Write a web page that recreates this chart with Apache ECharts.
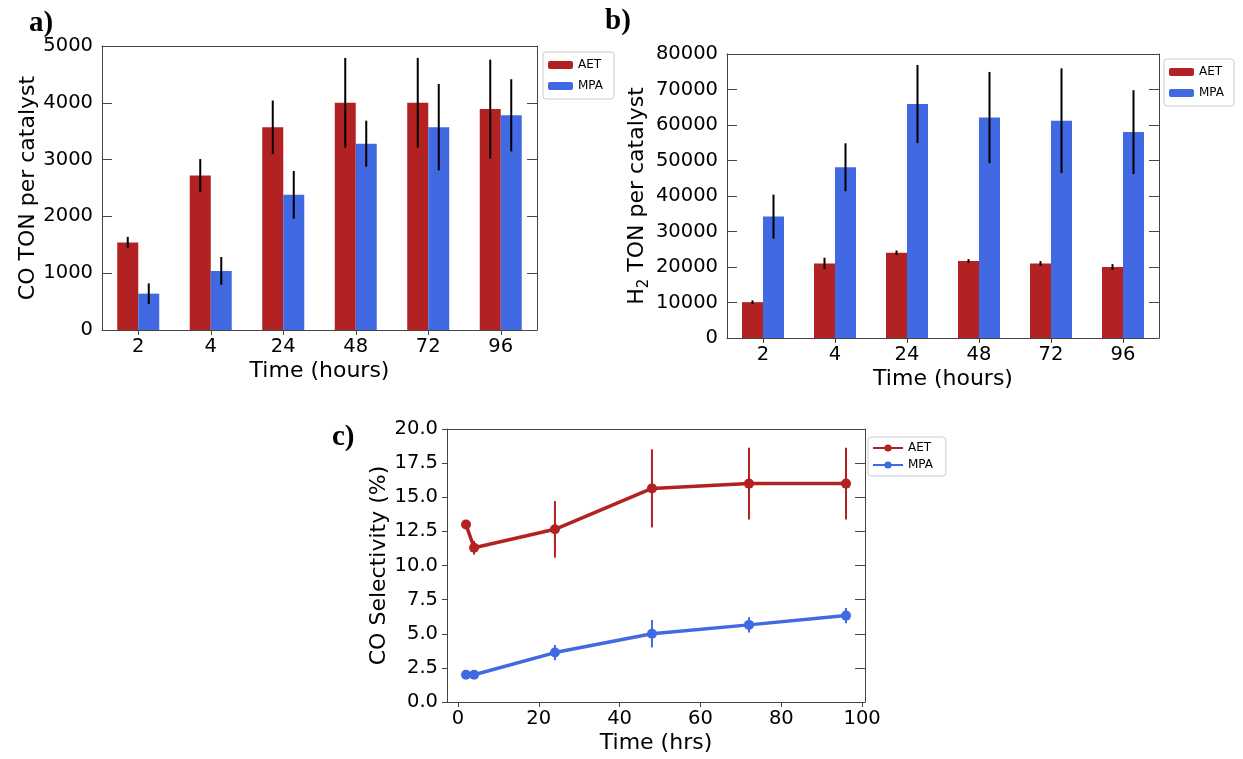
<!DOCTYPE html>
<html>
<head>
<meta charset="utf-8">
<script src="https://cdn.jsdelivr.net/npm/echarts@6/dist/echarts.min.js"></script>
<style>html,body{margin:0;padding:0;background:#fff}#c{width:1243px;height:759px}</style>
</head>
<body>
<div id="c"></div>
<script>
// ---- data ----
const categories = ['2', '4', '24', '48', '72', '96'];
const coAET = [1540, 2720, 3570, 4000, 4000, 3890];
const coAETerr = [100, 290, 470, 790, 790, 870];
const coMPA = [640, 1040, 2380, 3280, 3570, 3780];
const coMPAerr = [180, 245, 420, 405, 760, 635];

const h2AET = [10100, 21000, 24000, 21700, 21000, 20000];
const h2AETerr = [500, 1600, 650, 500, 650, 800];
const h2MPA = [34200, 48100, 65900, 62100, 61200, 58000];
const h2MPAerr = [6200, 6750, 11000, 12850, 14750, 11800];

const hours = [2, 4, 24, 48, 72, 96];
const selAET = [13.0, 11.3, 12.65, 15.65, 16.0, 16.0];
const selAETerr = [0, 0.5, 2.07, 2.86, 2.63, 2.63];
const selMPA = [2.0, 2.0, 3.62, 5.0, 5.65, 6.33];
const selMPAerr = [0, 0, 0.56, 1.0, 0.56, 0.56];

// ---- style ----
const FONT = 'DejaVu Sans';
const RED = '#B22222';
const BLUE = '#4169E1';
const SPINE = '#444';
const TICK = 19.5;
const LAB = 22;
const BARW = 21;

const chart = echarts.init(document.getElementById('c'));

function errData(vals, errs) {
  return vals.map((v, i) => [i, v - errs[i], v + errs[i]]);
}
function errDataXY(xs, vals, errs) {
  return vals.map((v, i) => [xs[i], v - errs[i], v + errs[i]]);
}
function errSeries(name, xi, yi, data, dx, color, lw) {
  return {
    name: name, type: 'custom', xAxisIndex: xi, yAxisIndex: yi, z: 10,
    data: data, encode: { x: 0, y: [1, 2] }, silent: true,
    renderItem: function (params, api) {
      const lo = api.value(1), hi = api.value(2);
      if (hi - lo <= 0) return null;
      const p1 = api.coord([api.value(0), lo]);
      const p2 = api.coord([api.value(0), hi]);
      return { type: 'line', shape: { x1: p1[0] + dx, y1: p1[1], x2: p2[0] + dx, y2: p2[1] },
               style: { stroke: color, lineWidth: lw } };
    }
  };
}

const tickLabel = { fontFamily: FONT, fontSize: TICK, color: '#000' };
const nameStyle = { fontFamily: FONT, fontSize: LAB, color: '#000' };
const spineLine = { show: true, onZero: false, lineStyle: { color: SPINE, width: 1 } };

function catX(gi, nameGap) {
  return [{
    type: 'category', gridIndex: gi, data: categories, position: 'bottom',
    name: 'Time (hours)', nameLocation: 'middle', nameGap: nameGap, nameTextStyle: nameStyle,
    axisLine: spineLine,
    axisTick: { show: true, alignWithLabel: true, inside: false, length: 5, lineStyle: { color: SPINE } },
    axisLabel: Object.assign({ margin: 7 }, tickLabel),
    splitLine: { show: false }
  }, {
    type: 'category', gridIndex: gi, data: categories, position: 'top',
    axisLine: spineLine,
    axisTick: { show: false }, axisLabel: { show: false }, splitLine: { show: false }
  }];
}
function valY(gi, max, interval, name, nameGap, leftInside, extraName) {
  return [{
    type: 'value', gridIndex: gi, min: 0, max: max, interval: interval, position: 'left',
    name: name, nameLocation: 'middle', nameGap: nameGap,
    nameTextStyle: Object.assign({}, nameStyle, extraName || {}),
    axisLine: spineLine,
    axisTick: { show: true, inside: leftInside, length: leftInside ? 10 : 5, lineStyle: { color: SPINE } },
    axisLabel: Object.assign({ margin: 9, formatter: v => String(v) }, tickLabel),
    splitLine: { show: false }
  }, {
    type: 'value', gridIndex: gi, min: 0, max: max, interval: interval, position: 'right',
    axisLine: spineLine,
    axisTick: { show: true, inside: true, length: 10, lineStyle: { color: SPINE } },
    axisLabel: { show: false }, splitLine: { show: false }
  }];
}

const xA = catX(0, 30), xB = catX(1, 30);
const yA = valY(0, 5000, 1000, 'CO TON per catalyst', 56, true);
const yB = valY(1, 80000, 10000, '{a|H}{s|2}{a| TON per catalyst}', 72, true, {
  rich: {
    a: { fontFamily: FONT, fontSize: LAB, color: '#000', lineHeight: 30, verticalAlign: 'middle' },
    s: { fontFamily: FONT, fontSize: 15, color: '#000', lineHeight: 15, verticalAlign: 'bottom' }
  }
});
const yC = valY(2, 20, 2.5, 'CO Selectivity (%)', 51, false);
yC[0].axisLabel.formatter = v => v.toFixed(1);

// panel c data grid x axes (frame) + label grid x axis
const xC = [{
  type: 'value', gridIndex: 2, min: -2.7, max: 100.7, position: 'bottom',
  name: 'Time (hrs)', nameLocation: 'middle', nameGap: 30, nameTextStyle: nameStyle,
  axisLine: spineLine,
  axisTick: { show: false }, axisLabel: { show: false }, splitLine: { show: false }
}, {
  type: 'value', gridIndex: 2, min: -2.7, max: 100.7, position: 'top',
  axisLine: spineLine,
  axisTick: { show: false }, axisLabel: { show: false }, splitLine: { show: false }
}, {
  type: 'value', gridIndex: 3, min: 0, max: 100, interval: 20, position: 'bottom',
  axisLine: { show: false, onZero: false },
  axisTick: { show: true, inside: false, length: 5, lineStyle: { color: SPINE } },
  axisLabel: Object.assign({ margin: 7 }, tickLabel), splitLine: { show: false }
}];
const yHidden = { type: 'value', gridIndex: 3, min: 0, max: 1, show: false };

const cScale = 418 / 103.4;

const option = {
  animation: false,
  backgroundColor: '#fff',
  textStyle: { fontFamily: FONT },
  title: [
    { text: 'a)', left: 24, top: 4, textStyle: { fontFamily: 'Liberation Serif', fontWeight: 'bold', fontSize: 29, color: '#000' } },
    { text: 'b)', left: 600, top: 2, textStyle: { fontFamily: 'Liberation Serif', fontWeight: 'bold', fontSize: 29, color: '#000' } },
    { text: 'c)', left: 327, top: 418, textStyle: { fontFamily: 'Liberation Serif', fontWeight: 'bold', fontSize: 29, color: '#000' } }
  ],
  grid: [
    { left: 102, top: 46, width: 435, height: 284 },
    { left: 727, top: 54, width: 432, height: 284 },
    { left: 447, top: 429, width: 418, height: 273 },
    { left: 447 + 2.7 * cScale, top: 429, width: 100 * cScale, height: 273 }
  ],
  legend: [
    { data: ['AET', 'MPA'], orient: 'vertical', left: 543, top: 52, itemWidth: 25, itemHeight: 8, itemGap: 9,
      padding: [7, 11, 7, 5], borderColor: '#ccc', borderWidth: 1, borderRadius: 3,
      textStyle: { fontFamily: FONT, fontSize: 12, color: '#000' }, selectedMode: false },
    { data: ['AET', 'MPA'], orient: 'vertical', left: 1164, top: 59, itemWidth: 25, itemHeight: 8, itemGap: 9,
      padding: [7, 10, 7, 5], borderColor: '#ccc', borderWidth: 1, borderRadius: 3,
      textStyle: { fontFamily: FONT, fontSize: 12, color: '#000' }, selectedMode: false },
    { data: ['AET ', 'MPA '], orient: 'vertical', left: 868, top: 437, itemWidth: 30, itemHeight: 9, itemGap: 5,
      padding: [5, 9, 5, 4], borderColor: '#ccc', borderWidth: 1, borderRadius: 3,
      textStyle: { fontFamily: FONT, fontSize: 12, color: '#000' }, selectedMode: false }
  ],
  xAxis: [xA[0], xA[1], xB[0], xB[1], xC[0], xC[1], xC[2]],
  yAxis: [yA[0], yA[1], yB[0], yB[1], yC[0], yC[1], yHidden],
  series: [
    { name: 'AET', type: 'bar', xAxisIndex: 0, yAxisIndex: 0, data: coAET, barWidth: BARW, barGap: '0%', itemStyle: { color: RED } },
    { name: 'MPA', type: 'bar', xAxisIndex: 0, yAxisIndex: 0, data: coMPA, barWidth: BARW, barGap: '0%', itemStyle: { color: BLUE } },
    errSeries('errA1', 0, 0, errData(coAET, coAETerr), -BARW / 2, '#000', 2),
    errSeries('errA2', 0, 0, errData(coMPA, coMPAerr), BARW / 2, '#000', 2),

    { name: 'AET', type: 'bar', xAxisIndex: 2, yAxisIndex: 2, data: h2AET, barWidth: BARW, barGap: '0%', itemStyle: { color: RED } },
    { name: 'MPA', type: 'bar', xAxisIndex: 2, yAxisIndex: 2, data: h2MPA, barWidth: BARW, barGap: '0%', itemStyle: { color: BLUE } },
    errSeries('errB1', 2, 2, errData(h2AET, h2AETerr), -BARW / 2, '#000', 2),
    errSeries('errB2', 2, 2, errData(h2MPA, h2MPAerr), BARW / 2, '#000', 2),

    { name: 'AET ', type: 'line', xAxisIndex: 4, yAxisIndex: 4, data: hours.map((h, i) => [h, selAET[i]]),
      symbol: 'circle', symbolSize: 10, lineStyle: { color: RED, width: 3.5 }, itemStyle: { color: RED }, z: 5 },
    { name: 'MPA ', type: 'line', xAxisIndex: 4, yAxisIndex: 4, data: hours.map((h, i) => [h, selMPA[i]]),
      symbol: 'circle', symbolSize: 10, lineStyle: { color: BLUE, width: 3.5 }, itemStyle: { color: BLUE }, z: 5 },
    errSeries('errC1', 4, 4, errDataXY(hours, selAET, selAETerr), 0, RED, 2),
    errSeries('errC2', 4, 4, errDataXY(hours, selMPA, selMPAerr), 0, BLUE, 2)
  ]
};
chart.setOption(option);
</script>
</body>
</html>
